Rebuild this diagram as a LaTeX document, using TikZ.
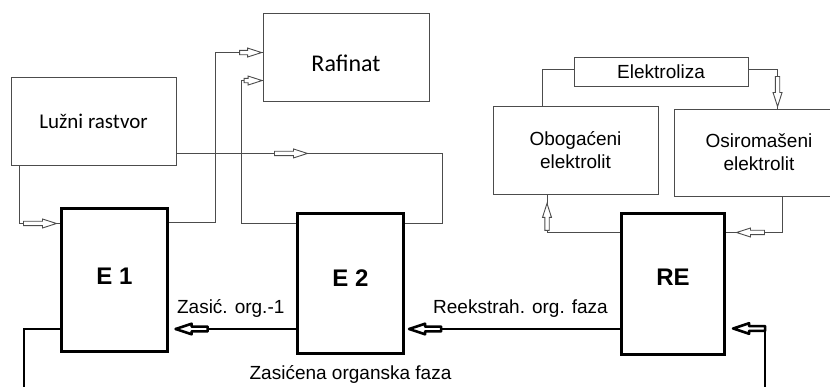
\documentclass[tikz,border=0pt]{standalone}
\usepackage{fontspec}
\setmainfont{Liberation Sans}
\newfontfamily\calibri{Carlito}
\usetikzlibrary{positioning,decorations.markings}

\begin{document}
\begin{tikzpicture}[x=1pt, y=-1pt,
            box/.style={draw=black!70, line width=0.9pt, inner sep=0pt, align=center,
              font=\fontsize{19}{23}\selectfont},
            unit/.style={draw, line width=3pt, minimum width=106pt, inner sep=0pt},
            big/.style={font=\fontsize{24}{28}\selectfont\bfseries},
            lbl/.style={font=\fontsize{19}{23}\selectfont},
            pipe/.style={draw=black!70, line width=0.9pt},
            flow/.style={draw, line width=2pt},
            hollow/.style 2 args={postaction={decorate, decoration={markings,
                mark=at position #1 with {\draw[line width=0.9pt, fill=white]
                  (0pt,0pt) -- (-14pt,4.5pt) -- (-14pt,2.2pt) -- (-#2,2.2pt)
                  -- (-#2,-2.2pt) -- (-14pt,-2.2pt) -- (-14pt,-4.5pt) -- cycle;}}}},
            fat/.style={postaction={decorate, decoration={markings,
                mark=at position -0.1pt with {\draw[line width=2.6pt, fill=white, line join=round]
                  (0pt,0pt) -- (-16pt,5.3pt) -- (-16pt,2.4pt) -- (-32pt,2.4pt)
                  -- (-32pt,-2.4pt) -- (-16pt,-2.4pt) -- (-16pt,-5.3pt) -- cycle;}}}}]
            \useasboundingbox (0,0) rectangle (830,387);
            \clip (0,0) rectangle (830,387);

            % tanks and stages
            \node[box, minimum width=165pt, minimum height=88pt,
              font=\calibri\fontsize{21}{25}\selectfont] (luzni) at (93.5,121) {Lužni rastvor};
            \node[box, minimum width=166pt, minimum height=88pt,
              label={[name=rafinatt, font=\calibri\fontsize{24}{28}\selectfont, yshift=-6pt]center:Rafinat}]
              (rafinat) at (346,57) {};
            \node[box, minimum width=174pt, minimum height=29pt] (elektroliza) at (661,71.5) {Elektroliza};
            \node[box, minimum width=165pt, minimum height=88pt] (obog) at (575.5,150) {Obogaćeni\\elektrolit};
            \node[box, minimum width=170pt, minimum height=87pt] (osir) at (759,152.5) {Osiromašeni\\elektrolit};

            \node[unit, minimum height=143pt, label={[name=e1t, big, yshift=4pt]center:E 1}] (e1) at (114.5,280) {};
            \node[unit, minimum height=140pt, label={[name=e2t, big, yshift=5.5pt]center:E 2}] (e2) at (350.5,283.5) {};
            \node[unit, minimum width=103pt, minimum height=141pt,
              label={[name=ret, big, yshift=7pt]center:RE}] (re) at (673,284) {};

            % aqueous side
            \draw[pipe, hollow={-3.5pt}{33pt}] ([xshift=8.5pt]luzni.south west) |- ([yshift=-16.5pt]e1.north west);
            \draw[pipe, hollow={-1pt}{22pt}] ([yshift=-15.5pt]e1.north east) -- ++(46,0) |- ([yshift=-40pt]rafinat.north west);
            \draw[pipe, hollow={-0.5pt}{18pt}] ([yshift=-11.5pt]e2.north west) -- ++(-54.5,0) |- ([yshift=-68pt]rafinat.north west);
            \draw[pipe, hollow={131pt}{33pt}] ([yshift=12pt]luzni.south east) -- ++(266,0) |- ([yshift=-11.5pt]e2.north east);

            % electrolyte loop
            \draw[pipe] ([yshift=2.5pt]elektroliza.west) -| ([xshift=-33.5pt]obog.north);
            \draw[pipe, hollow={-2pt}{30pt}] ([yshift=2.5pt]elektroliza.east) -| ([xshift=104pt]osir.north west);
            \draw[pipe, hollow={-10.5pt}{28pt}] ([xshift=109pt]osir.south west) |- ([yshift=-20.5pt]re.north east);
            \draw[pipe, hollow={-9pt}{27pt}] ([yshift=-20.5pt]re.north west) -| ([xshift=-28.5pt]obog.south);

            % organic phase
            \coordinate (out) at (24,395);
            \coordinate (in) at (765,395);
            \draw[flow, fat] ([yshift=-45pt]re.west)
              -- node[lbl, name=reekst, anchor=base, yshift=16pt, xshift=6pt]{Reekstrah. org. faza}
              ([xshift=4pt, yshift=-45.5pt]e2.east);
            \draw[flow, fat] ([yshift=-45.5pt]e2.west)
              -- node[lbl, name=zasic, anchor=base, yshift=15pt, xshift=-5pt]{Zasić. org.-1}
              ([xshift=6.5pt, yshift=-49pt]e1.east);
            \draw[flow] ([yshift=-49pt]e1.west) -| (out);
            \draw[flow, fat] (in) |- ([xshift=7pt, yshift=-44.5pt]re.east);
            \node[lbl, anchor=base] (zasicena) at ([yshift=-24pt]e2.south) {Zasićena organska faza};
\end{tikzpicture}
\end{document}
